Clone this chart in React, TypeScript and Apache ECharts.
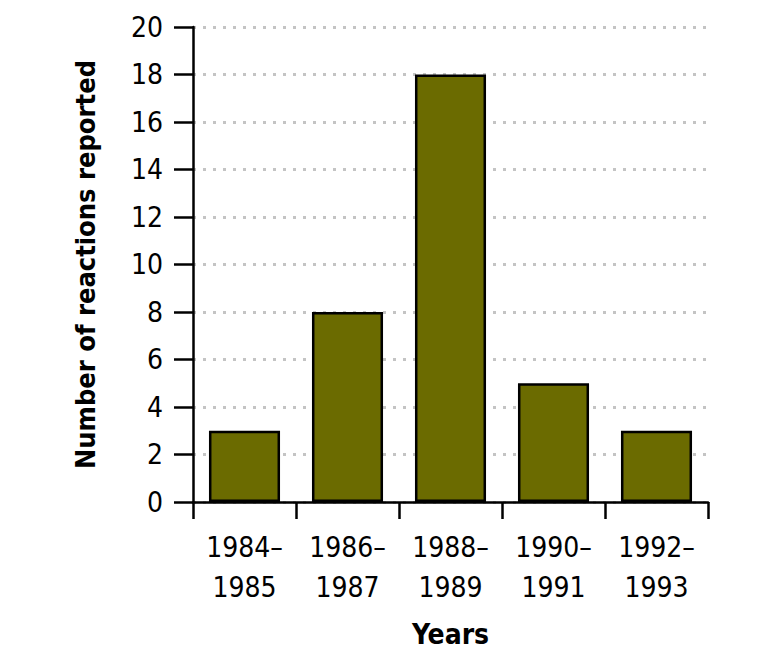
import React, { useEffect, useRef } from "react";
import * as echarts from "echarts";

const categories = ["1984–\n1985", "1986–\n1987", "1988–\n1989", "1990–\n1991", "1992–\n1993"];
const values = [3, 8, 18, 5, 3];
const yTicks = [0, 2, 4, 6, 8, 10, 12, 14, 16, 18, 20];

const FONT = "'DejaVu Sans Condensed', 'DejaVu Sans', sans-serif";

export default function App() {
  const ref = useRef<HTMLDivElement>(null);
  useEffect(() => {
    const chart = echarts.init(ref.current!, null, { renderer: "svg" });
    chart.setOption({
      animation: false,
      grid: { left: 185, right: 62, top: 19, bottom: 155, containLabel: false, outerBoundsMode: "none" },
      xAxis: {
        type: "category",
        data: categories,
        name: "Years",
        nameLocation: "middle",
        nameGap: 118,
        nameTextStyle: { fontFamily: FONT, fontSize: 28, fontWeight: "bold", color: "#000" },
        axisLine: { lineStyle: { color: "#000", width: 2.5 } },
        axisTick: { show: true, length: 17, alignWithLabel: false, lineStyle: { color: "#000", width: 2.5 } },
        axisLabel: { interval: 0, fontFamily: FONT, fontSize: 28, color: "#000", lineHeight: 40, margin: 25 },
      },
      yAxis: {
        type: "value",
        min: yTicks[0],
        max: yTicks[yTicks.length - 1],
        interval: 2,
        name: "Number of reactions reported",
        nameLocation: "middle",
        nameGap: 94,
        nameRotate: 90,
        nameTextStyle: { fontFamily: FONT, fontSize: 27, fontWeight: "bold", color: "#000" },
        axisLine: { show: true, lineStyle: { color: "#000", width: 2.5 } },
        axisTick: { show: true, length: 19, lineStyle: { color: "#000", width: 2.5 } },
        axisLabel: { fontFamily: FONT, fontSize: 28, color: "#000", margin: 30 },
        splitLine: { show: true, lineStyle: { color: "#c4c4c4", type: [3, 7], width: 3 } },
      },
      series: [
        {
          type: "bar",
          data: values,
          barCategoryGap: "31%",
          itemStyle: { color: "#6b6b00", borderColor: "#000", borderWidth: 2.5 },
        },
      ],
    });
    return () => chart.dispose();
  }, []);
  return <div ref={ref} style={{ width: 762, height: 649 }} />;
}
